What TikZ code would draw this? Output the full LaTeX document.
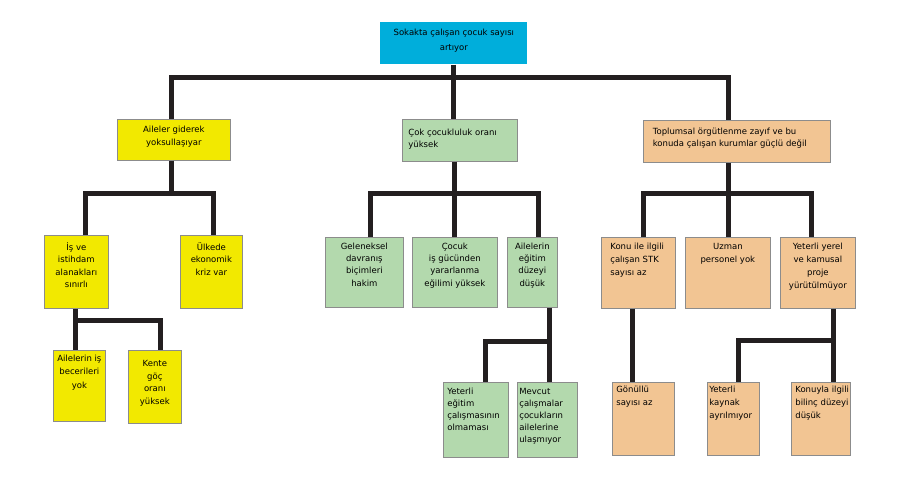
\documentclass[tikz,border=0pt]{standalone}
\usepackage{fontspec}
\setmainfont{DejaVu Sans}
\definecolor{cyanbox}{HTML}{00AEDB}
\definecolor{yellowbox}{HTML}{F2E900}
\definecolor{greenbox}{HTML}{B3D9AD}
\definecolor{orangebox}{HTML}{F2C593}
\definecolor{linec}{HTML}{231F20}
\tikzset{
  box/.style={draw=black!45, line width=0.7pt, inner sep=0pt, anchor=north west,
    font=\fontsize{8.5}{12.5}\selectfont},
  conn/.style={draw=linec, line width=5pt, line join=miter}
}
% name, x1, y1, x2, y2, options, alignment, top gap, text
\newcommand{\bx}[9]{%
  \pgfmathsetmacro{\bw}{#4-#2}\pgfmathsetmacro{\bh}{#5-#3}%
  \node[box,#6] (#1) at (#2,#3)
    {\parbox[c][\bh pt][t]{\bw pt}{\vspace*{#8pt}#7\strut #9\par}};}
\begin{document}
\begin{tikzpicture}[x=1pt,y=-1pt]
\path[use as bounding box, fill=white] (0,0) rectangle (899,481);

% level 1
\bx{top}{380}{22}{527}{64}{fill=cyanbox,draw=none}{\centering\fontsize{8.5}{15}\selectfont}{3}{Sokakta çalışan çocuk sayısı\\artıyor}

% level 2
\bx{L2y}{117}{119}{230}{160}{fill=yellowbox}{\centering\fontsize{8.5}{13}\selectfont}{4.4}{Aileler giderek\\yoksullaşıyar}
\bx{L2g}{402}{119}{517}{161}{fill=greenbox}{\raggedright\leftskip=6pt\fontsize{8.5}{11.7}\selectfont}{8.3}{Çok çocukluluk oranı\\yüksek}
\bx{L2o}{643}{120}{830}{162}{fill=orangebox}{\raggedright\leftskip=9.5pt\fontsize{8.5}{11.7}\selectfont}{6}{Toplumsal örgütlenme zayıf ve bu\\konuda çalışan kurumlar güçlü değil}

% level 3
\bx{L3y1}{44}{235}{108}{308}{fill=yellowbox}{\centering}{6}{İş ve\\istihdam\\alanakları\\sınırlı}
\bx{L3y2}{180}{235}{242}{308}{fill=yellowbox}{\centering}{6}{Ülkede\\ekonomik\\kriz var}
\bx{L3g1}{325}{237}{403}{307}{fill=greenbox}{\centering\fontsize{8.5}{12.2}\selectfont}{3.7}{Geleneksel\\davranış\\biçimleri\\hakim}
\bx{L3g2}{412}{237}{497}{307}{fill=greenbox}{\centering\fontsize{8.5}{12.2}\selectfont}{3.7}{Çocuk\\ iş gücünden\\yararlanma\\eğilimi yüksek}
\bx{L3g3}{507}{237}{557}{307}{fill=greenbox}{\centering\fontsize{8.5}{12.2}\selectfont}{3.7}{Ailelerin\\eğitim\\düzeyi\\düşük}
\bx{L3o1}{601}{237}{675}{308}{fill=orangebox}{\raggedright\leftskip=9pt\fontsize{8.5}{13}\selectfont}{3}{Konu ile ilgili\\çalışan STK\\sayısı az}
\bx{L3o2}{685}{237}{770}{308}{fill=orangebox}{\centering\fontsize{8.5}{13}\selectfont}{3}{Uzman\\personel yok}
\bx{L3o3}{780}{237}{855}{308}{fill=orangebox}{\centering\fontsize{8.5}{13}\selectfont}{3}{Yeterli yerel\\ve kamusal\\proje\\yürütülmüyor}

% level 4
\bx{L4y1}{53}{350}{105}{421}{fill=yellowbox}{\centering\fontsize{8.5}{13.3}\selectfont}{1.8}{Ailelerin iş\\becerileri\\yok}
\bx{L4y2}{128}{350}{181}{423}{fill=yellowbox}{\centering\fontsize{8.5}{12.8}\selectfont}{7}{Kente\\göç\\oranı\\yüksek}
\bx{L4g1}{443}{382}{508}{457}{fill=greenbox}{\raggedright\leftskip=4pt\fontsize{8.5}{12}\selectfont}{3.4}{Yeterli\\eğitim\\çalışmasının\\olmaması}
\bx{L4g2}{517}{382}{577}{457}{fill=greenbox}{\raggedright\leftskip=2pt\fontsize{8.5}{12}\selectfont}{3.4}{Mevcut\\çalışmalar\\çocukların\\ailelerine\\ulaşmıyor}
\bx{L4o1}{612}{382}{674}{455}{fill=orangebox}{\raggedright\leftskip=4pt\fontsize{8.5}{13}\selectfont}{1.4}{Gönüllü\\sayısı az}
\bx{L4o2}{707}{382}{759}{455}{fill=orangebox}{\raggedright\leftskip=2pt\fontsize{8.5}{13}\selectfont}{1.4}{Yeterli\\kaynak\\ayrılmıyor}
\bx{L4o3}{791}{382}{850}{455}{fill=orangebox}{\raggedright\leftskip=4pt\fontsize{8.5}{13}\selectfont}{1.4}{Konuyla ilgili\\bilinç düzeyi\\düşük}

% helper coordinates
\coordinate (bA) at (0,78);
\coordinate (bB) at (0,194);
\coordinate (bCy) at (0,320);
\coordinate (bCg) at (0,341);
\coordinate (bCo) at (0,340);
\foreach \v in {75,85,160,171,213,370,454,485,538,549,632,643,728,738,811,833}
  {\coordinate (x\v) at (\v,0);}

% connectors level 1-2
\draw[conn] (top.south) -- (top.south |- L2g.north);
\draw[conn] (L2y.north -| x171) -- (x171 |- bA) -- (x728 |- bA) -- (L2o.north -| x728);
% level 2-3
\draw[conn] (L2y.south -| x171) -- (x171 |- bB);
\draw[conn] (L3y1.north -| x85) -- (x85 |- bB) -- (x213 |- bB) -- (L3y2.north -| x213);
\draw[conn] (L2g.south -| x454) -- (L3g2.north -| x454);
\draw[conn] (L3g1.north -| x370) -- (x370 |- bB) -- (x538 |- bB) -- (L3g3.north -| x538);
\draw[conn] (L2o.south -| x728) -- (L3o2.north -| x728);
\draw[conn] (L3o1.north -| x643) -- (x643 |- bB) -- (x811 |- bB) -- (L3o3.north -| x811);
% level 3-4
\draw[conn] (L3y1.south -| x75) -- (L4y1.north -| x75);
\draw[conn] (x75 |- bCy) -- (x160 |- bCy) -- (L4y2.north -| x160);
\draw[conn] (L3g3.south -| x549) -- (L4g2.north -| x549);
\draw[conn] (x549 |- bCg) -- (x485 |- bCg) -- (L4g1.north -| x485);
\draw[conn] (L3o1.south -| x632) -- (L4o1.north -| x632);
\draw[conn] (L3o3.south -| x833) -- (L4o3.north -| x833);
\draw[conn] (x833 |- bCo) -- (x738 |- bCo) -- (L4o2.north -| x738);
\end{tikzpicture}
\end{document}
